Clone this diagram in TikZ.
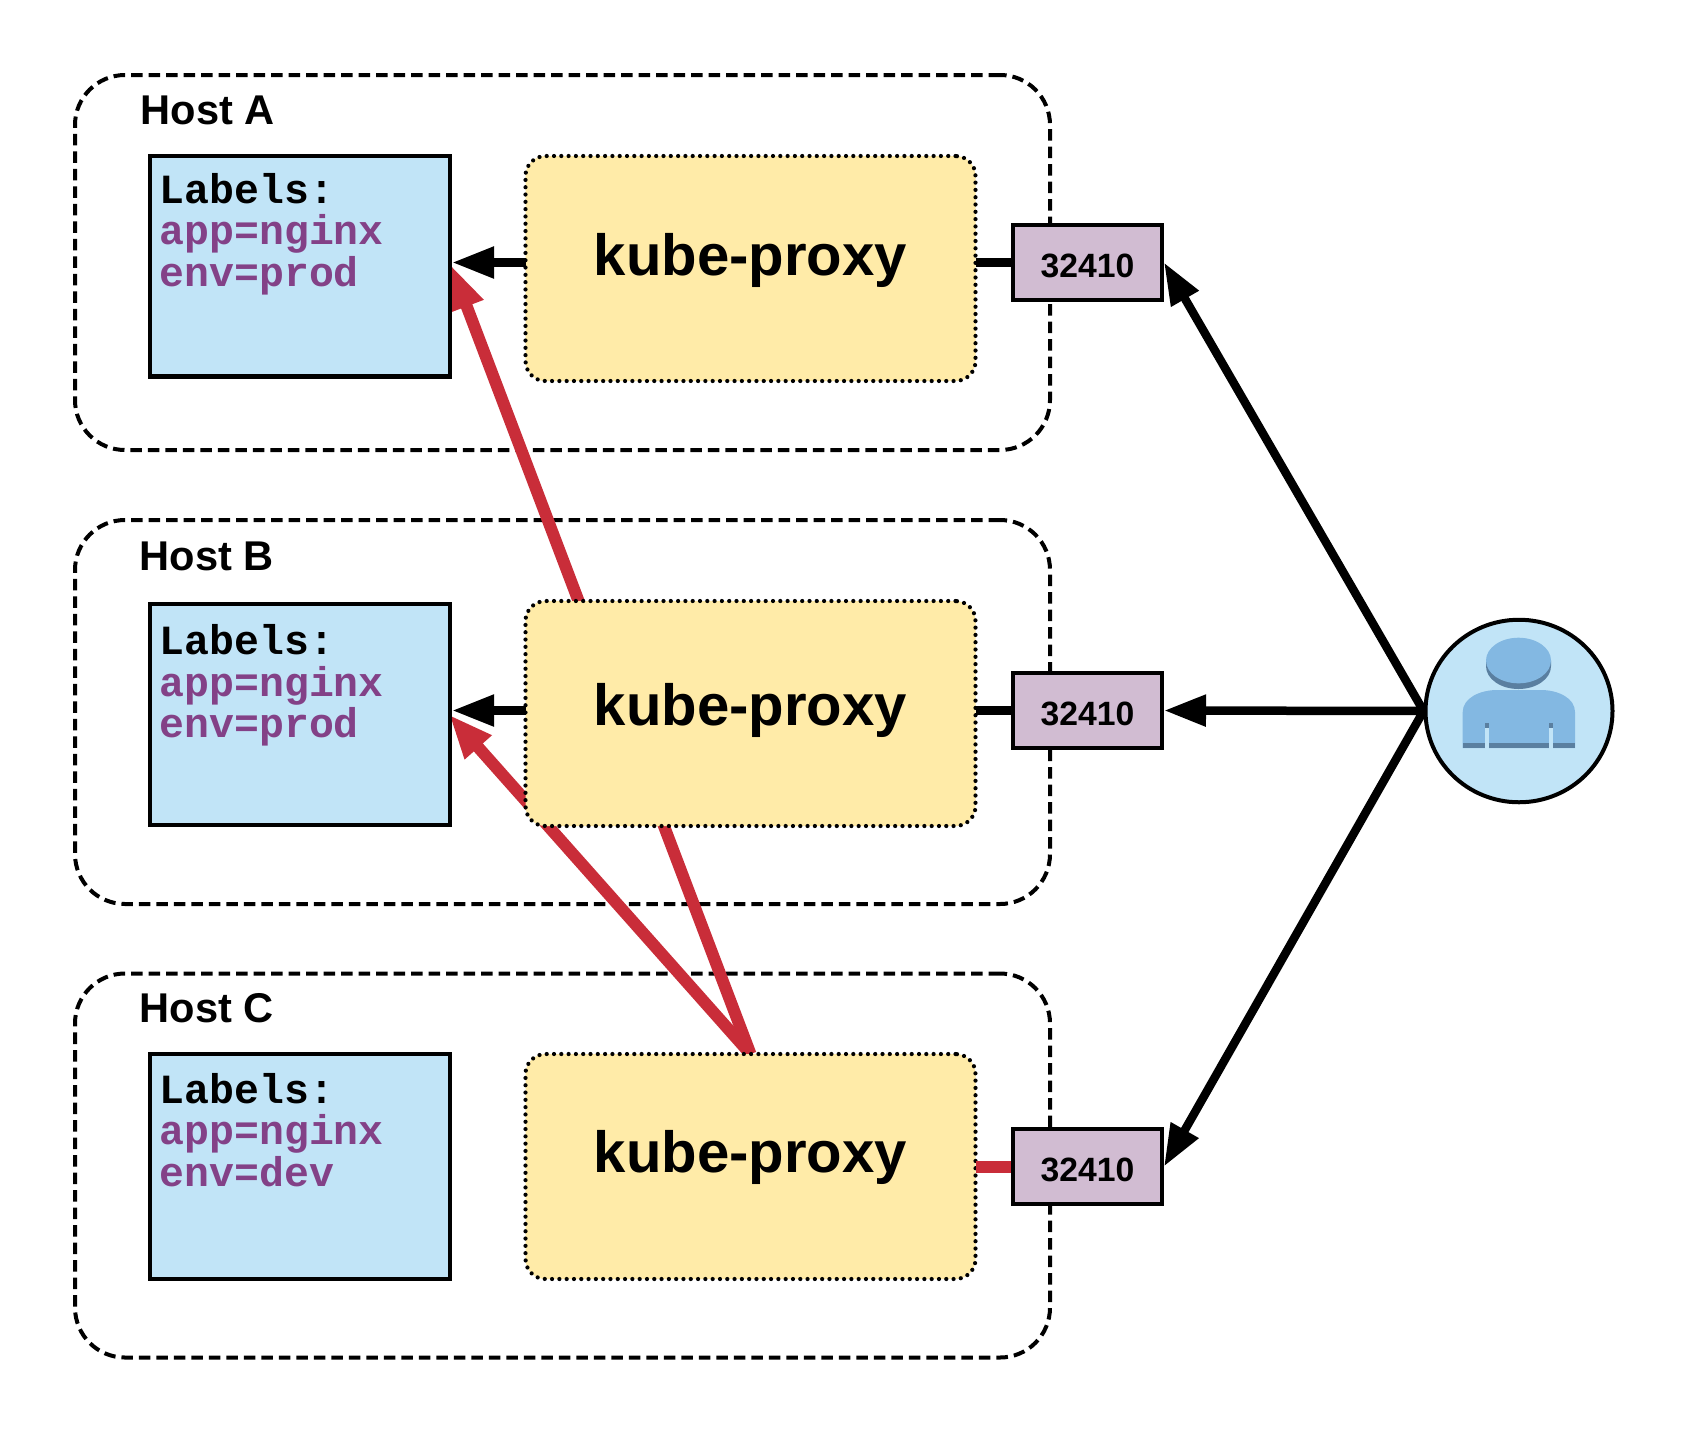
\documentclass[tikz,border=0pt]{standalone}
\usepackage{fontspec}
\setmainfont{Liberation Sans}
\setmonofont{Liberation Mono}
\usetikzlibrary{arrows.meta,calc,positioning,shapes.geometric}
\definecolor{podfill}{HTML}{C1E4F7}
\definecolor{proxyfill}{HTML}{FFEBA8}
\definecolor{portfill}{HTML}{D1BCD2}
\definecolor{redline}{HTML}{C92D39}
\definecolor{purpletext}{HTML}{834187}
\definecolor{personlight}{HTML}{83B8E2}
\definecolor{persondark}{HTML}{5A7FA0}
\pgfdeclarelayer{hostlayer}
\pgfdeclarelayer{linklayer}
\pgfsetlayers{hostlayer,linklayer,main}
\tikzset{
  hostbox/.style={rectangle,rounded corners=50pt,draw=black,line width=4pt,dash pattern=on 11.5pt off 6pt,minimum width=975pt,inner sep=0pt},
  hosttitle/.style={anchor=base west,inner sep=0pt,font=\fontsize{41.6}{42}\selectfont\bfseries},
  podbox/.style={rectangle,draw=black,line width=4.2pt,fill=podfill,minimum width=300pt,inner sep=0pt},
  podtext/.style={anchor=north west,inner sep=0pt,align=left,font=\fontsize{41.5}{41.5}\selectfont\ttfamily\bfseries},
  proxybox/.style={rectangle,rounded corners=20pt,fill=proxyfill,draw=black,line width=4.2pt,line cap=round,dash pattern=on 0pt off 7.3pt,minimum width=450pt,inner sep=0pt,outer sep=0pt},
  proxytext/.style={anchor=base,inner sep=0pt,font=\fontsize{58.1}{58}\selectfont\bfseries},
  portbox/.style={rectangle,draw=black,line width=4pt,fill=portfill,minimum width=149pt,minimum height=74.5pt,inner sep=0pt},
  porttext/.style={anchor=base,inner sep=0pt,font=\fontsize{33.7}{33.7}\selectfont\bfseries},
  blacklink/.style={line width=8.5pt,draw=black},
  blackarrow/.style={blacklink,-{Triangle[length=42pt,width=30pt]}},
  redlink/.style={line width=12pt,draw=redline},
  redarrow/.style={redlink,-{Triangle[length=44pt,width=33pt]}},
  userdisc/.style={ellipse,draw=black,line width=4pt,fill=podfill,minimum width=187pt,minimum height=182.5pt,inner sep=0pt}
}
\newcommand{\purp}[1]{\textcolor{purpletext}{#1}}
\begin{document}
\begin{tikzpicture}[x=1pt,y=-1pt]
\useasboundingbox (0,0) rectangle (1688,1433);
% hosts
\begin{pgfonlayer}{hostlayer}
\node[hostbox,minimum height=375pt] (hostA) at (562.5,262.5) {};
\node[hostbox,minimum height=384pt] (hostB) at (562.5,712) {};
\node[hostbox,minimum height=384pt] (hostC) at (562.5,1165.5) {};
\end{pgfonlayer}
\node[hosttitle] (titleA) at (140.5,124) {Host A};
\node[hosttitle] (titleB) at (139.5,570) {Host B};
\node[hosttitle] (titleC) at (139.5,1022.5) {Host C};
% pods
\node[podbox,minimum height=220.5pt] (podA) at (300,266.2) {};
\node[podbox,minimum height=221pt] (podB) at (300,714.5) {};
\node[podbox,minimum height=225pt] (podC) at (300,1166.5) {};
\node[podtext] (textA) at (159.4,172.9) {Labels:\\\purp{app=nginx}\\\purp{env=prod}};
\node[podtext] (textB) at (159.4,624.3) {Labels:\\\purp{app=nginx}\\\purp{env=prod}};
\node[podtext] (textC) at (159.4,1072.8) {Labels:\\\purp{app=nginx}\\\purp{env=dev}};
% proxies
\node[proxybox,minimum height=225pt] (proxyA) at (750.5,268.5) {};
\node[proxybox,minimum height=225pt] (proxyB) at (750.5,713.5) {};
\node[proxybox,minimum height=225pt] (proxyC) at (750.5,1166.5) {};
\node[proxytext] (kubeA) at (750.5,275) {kube-proxy};
\node[proxytext] (kubeB) at (750.5,725) {kube-proxy};
\node[proxytext] (kubeC) at (750.5,1172) {kube-proxy};
% ports
\node[portbox] (portA) at (1087.5,262.5) {};
\node[portbox] (portB) at (1087.5,710.5) {};
\node[portbox] (portC) at (1087.5,1166.5) {};
\node[porttext] (numA) at (1087.5,277) {32410};
\node[porttext] (numB) at (1087.5,725) {32410};
\node[porttext] (numC) at (1087.5,1181) {32410};
% user
\node[userdisc] (user) at (1519,711) {};
\fill[persondark] (1486,660.5) -- (1486,666.2) arc[start angle=180,end angle=360,x radius=32.5,y radius=-22.8] -- (1551,660.5) -- cycle;
\fill[personlight] (1518.5,660.5) ellipse[x radius=32.5,y radius=22.8];
\fill[personlight] (1462.7,748) -- (1462.7,712) .. controls (1462.7,698) and (1480,690) .. (1497,690) -- (1541,690) .. controls (1558,690) and (1575,698) .. (1575,712) -- (1575,748) -- cycle;
\fill[persondark] (1462.7,743.3) rectangle (1575,748);
\fill[persondark] (1485,723) rectangle (1489,728);
\fill[persondark] (1549,723) rectangle (1552.7,728);
\fill[podfill] (1485,728) rectangle (1489,748.5);
\fill[podfill] (1549,728) rectangle (1552.7,748.5);
% connectors
\draw[blackarrow] (proxyA.west |- portA.west) -- (podA.east |- portA.west);
\draw[blackarrow] (proxyB.west |- portB.west) -- (podB.east |- portB.west);
\draw[blacklink] (proxyA.east |- portA.west) -- (portA.west);
\draw[blacklink] (proxyB.east |- portB.west) -- (portB.west);
\draw[redlink] (proxyC.east |- portC.west) -- (portC.west);
\begin{pgfonlayer}{linklayer}
\draw[redarrow] (proxyC.north) -- ($(podA.east)+(-1,-1)$);
\draw[redarrow] (proxyC.north) -- ($(podB.east)+(-3,0)$);
\draw[blackarrow] (user.west) -- (portA.east);
\draw[blackarrow] (user.west) -- (portB.east);
\draw[blackarrow] (user.west) -- (portC.east);
\end{pgfonlayer}
\end{tikzpicture}
\end{document}
